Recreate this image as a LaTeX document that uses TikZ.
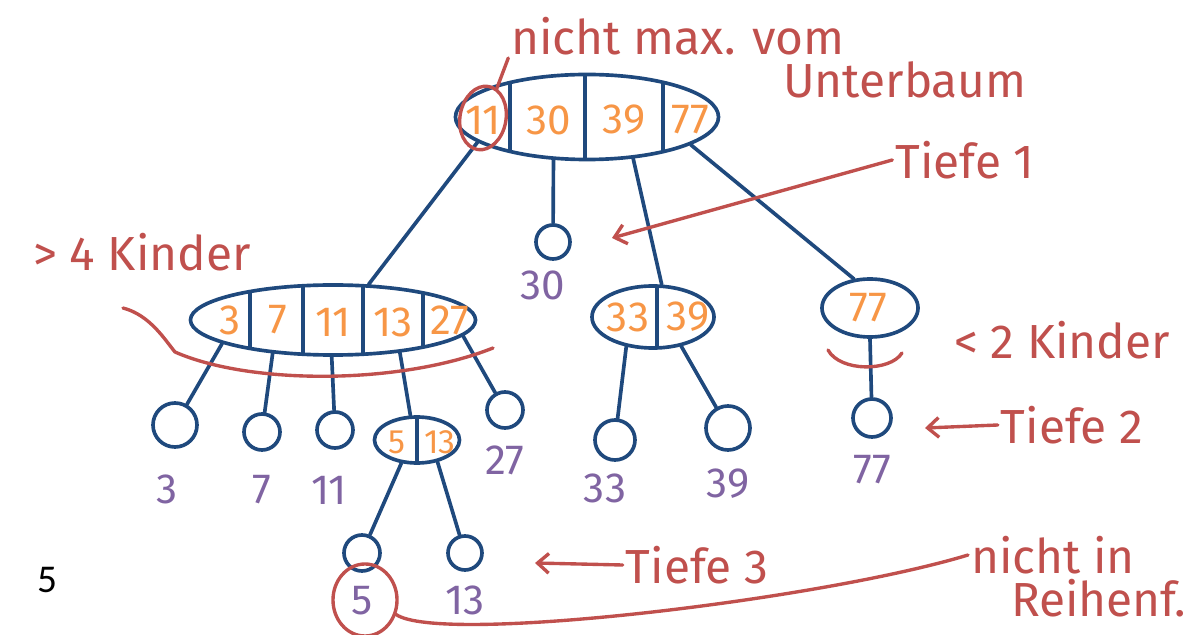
\documentclass[tikz,border=0pt]{standalone}
\usepackage{fontspec}
\setmainfont{Fira Sans}
\newfontfamily\pagefont{Carlito}
\usepackage{tikz}
\usetikzlibrary{shapes.geometric,positioning,arrows.meta}
\definecolor{penblue}{HTML}{1F497D}
\definecolor{penorange}{HTML}{F79646}
\definecolor{penpurple}{HTML}{8064A2}
\definecolor{penred}{HTML}{C0504D}

\begin{document}
\begin{tikzpicture}[x=0.025cm, y=-0.025cm, line cap=round, line join=round,
    knot/.style={ellipse, draw=penblue, line width=2.6pt, inner sep=0pt},
    leaf/.style={circle, draw=penblue, line width=2.6pt, inner sep=0pt, minimum size=0.9cm},
    keytext/.style={text=penorange, font=\fontsize{30}{32}\selectfont, inner sep=0pt},
    leaftext/.style={text=penpurple, font=\fontsize{30}{32}\selectfont, inner sep=0pt},
    remark/.style={text=penred, font=\fontsize{34}{36}\selectfont, inner sep=2pt},
    branch/.style={draw=penblue, line width=2.6pt},
    pen/.style={draw=penred, line width=2.4pt},
    >={Straight Barb[length=8pt, width=14pt]}, node distance=1.35cm]
  \useasboundingbox (0,0) rectangle (1184,635);

  % root with four keys
  \node[knot, minimum width=6.575cm, minimum height=2.125cm] (root) at (587,117) {};
  \begin{scope}
    \clip (587,117) ellipse [x radius=3.2875cm, y radius=1.0625cm];
    \foreach \x in {510,585,663} \draw[branch] (\x,60) -- (\x,180);
  \end{scope}
  \node[keytext] (r11) at (483,120) {11};
  \node[keytext] (r30) at (549,120) {30};
  \node[keytext] (r39) at (624,120) {39};
  \node[keytext] (r77) at (690,120) {77};

  % depth 1
  \node[knot, minimum width=7.125cm, minimum height=1.75cm] (left) at (333,320) {};
  \begin{scope}
    \clip (333,320) ellipse [x radius=3.5625cm, y radius=0.875cm];
    \foreach \x in {250,303,363,423} \draw[branch] (\x,270) -- (\x,370);
  \end{scope}
  \node[keytext] (l3) at (230,320) {3};
  \node[keytext] (l7) at (278,320) {7};
  \node[keytext] (l11) at (333,322) {11};
  \node[keytext] (l13) at (393,322) {13};
  \node[keytext] (l27) at (450,320) {27};

  \node[leaf, minimum size=0.85cm] (leaf30) at (553,242) {};

  \node[knot, minimum width=3.05cm, minimum height=1.55cm] (mid) at (653,317) {};
  \begin{scope}
    \clip (653,317) ellipse [x radius=1.525cm, y radius=0.775cm];
    \draw[branch] (657,270) -- (657,360);
  \end{scope}
  \node[keytext] (m33) at (628,317) {33};
  \node[keytext] (m39) at (688,317) {39};

  \node[knot, minimum width=2.4cm, minimum height=1.45cm] (right) at (870,308) {};
  \node[keytext] (k77) at (868,308) {77};

  % depth 2
  \node[leaf, minimum size=1.1cm] (leaf3) at (175,425) {};
  \node[leaf] (leaf7) at (262,432) {};
  \node[leaf] (leaf11) at (335,430) {};
  \node[knot, minimum width=2.125cm, minimum height=1.15cm] (small) at (417,440) {};
  \draw[branch] (417,417) -- (417,463);
  \node[keytext, font=\fontsize{24}{26}\selectfont] (s5) at (397,442) {5};
  \node[keytext, font=\fontsize{24}{26}\selectfont] (s13) at (440,442) {13};
  \node[leaf] (leaf27) at (505,410) {};
  \node[leaf, minimum size=1cm] (leaf33) at (615,440) {};
  \node[leaf, minimum size=1.1cm] (leaf39) at (728,428) {};
  \node[leaf, minimum size=0.95cm] (leaf77) at (872,418) {};

  % depth 3
  \node[leaf, minimum size=0.9cm] (leaf5) at (362,553) {};
  \node[leaf, minimum size=0.85cm] (leaf13) at (465,553) {};

  % values below the leaves
  \node[leaftext, node distance=1.08cm, below of=leaf30, xshift=-0.25cm] (v30) {30};
  \node[leaftext, node distance=1.6cm, below of=leaf3, xshift=-0.2cm] (v3) {3};
  \node[leaftext, node distance=1.45cm, below of=leaf7] (v7) {7};
  \node[leaftext, node distance=1.5cm, below of=leaf11, xshift=-0.15cm] (v11) {11};
  \node[leaftext, node distance=1.25cm, below of=leaf27] (v27) {27};
  \node[leaftext, node distance=1.2cm, below of=leaf33, xshift=-0.25cm] (v33) {33};
  \node[leaftext, node distance=1.38cm, below of=leaf39] (v39) {39};
  \node[leaftext, node distance=1.3cm, below of=leaf77] (v77) {77};
  \node[leaftext, node distance=1.18cm, below of=leaf5] (v5) {5};
  \node[leaftext, node distance=1.18cm, below of=leaf13] (v13) {13};

  % tree edges
  \path[branch]
    (root.193) -- (left.45)
    (root.232) -- (leaf30)
    (root.318) -- (mid.75)
    (root.345) -- (right.119)
    (left.192) -- (leaf3)
    (left.209) -- (leaf7)
    (left.268) -- (leaf11)
    (left.334) -- (small.105)
    (left.353) -- (leaf27)
    (small.236) -- (leaf5)
    (small.313) -- (leaf13)
    (mid.228) -- (leaf33)
    (mid.314) -- (leaf39)
    (right.south) -- (leaf77);

  % remarks
  \node[pen, ellipse, inner sep=0pt, minimum width=1.15cm, minimum height=1.6cm, rotate=-10] (c11) at (483,118) {};
  \node[remark] (nichtmax) at (678,36) {nicht max. vom};
  \node[remark] (unterbaum) at (905,80) {Unterbaum};
  \draw[pen] (c11.75) -- (nichtmax.south west);

  \node[remark] (tiefe1) at (965,160) {Tiefe 1};
  \coordinate (t1tip) at (612,238);
  \draw[pen, ->] (tiefe1.west) -- (t1tip);

  \node[remark] (mehr) at (142,252) {> 4 Kinder};
  \draw[pen] (123,308) .. controls (150,315) and (165,340) .. (175,352)
    .. controls (250,385) and (400,385) .. (493,348);

  \node[remark] (weniger) at (1062,340) {< 2 Kinder};
  \draw[pen] (828,350) .. controls (840,372) and (890,372) .. (902,353);

  \node[remark] (tiefe2) at (1072,425) {Tiefe 2};
  \coordinate (t2tip) at (925,428);
  \draw[pen, ->] (tiefe2.west) -- (t2tip);

  \node[remark] (tiefe3) at (697,565) {Tiefe 3};
  \coordinate (t3tip) at (535,563);
  \draw[pen, ->] (tiefe3.west) -- (t3tip);

  \node[pen, ellipse, inner sep=0pt, minimum width=1.6cm, minimum height=1.8cm] (c5) at (365,600) {};
  \node[remark, anchor=west] (nichtin) at (968,555) {nicht in};
  \node[remark, anchor=west] (reihenf) at (1008,598) {Reihenf.};
  \draw[pen] (c5.-25) .. controls (440,645) and (820,600) .. (nichtin.west);

  \node[font=\pagefont\fontsize{28}{30}\selectfont] (pagenum) at (47,580) {5};
\end{tikzpicture}
\end{document}
